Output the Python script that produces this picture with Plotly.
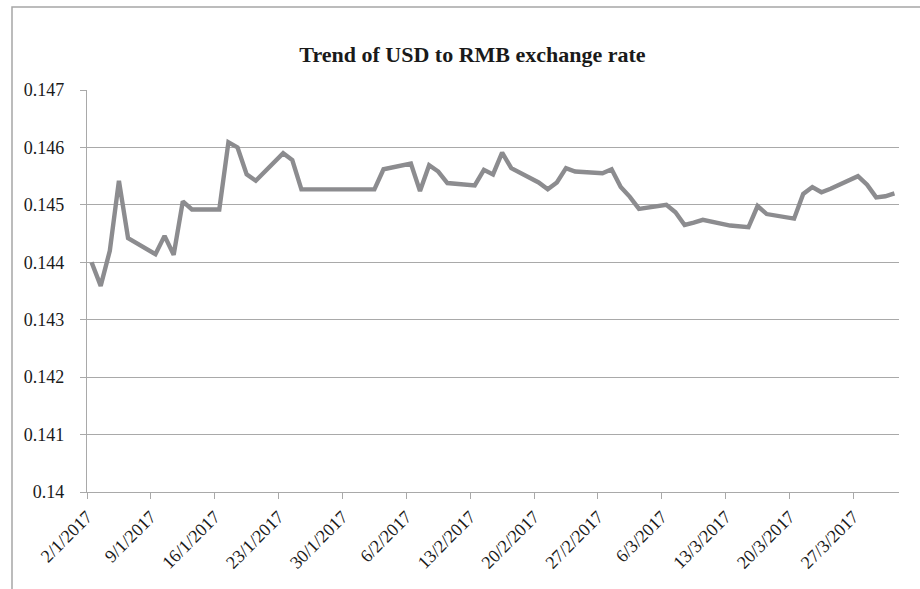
import pandas as pd
import plotly.graph_objects as go

dates = [
    "2017-01-02", "2017-01-03", "2017-01-04", "2017-01-05", "2017-01-06",
    "2017-01-09", "2017-01-10", "2017-01-11", "2017-01-12", "2017-01-13",
    "2017-01-16", "2017-01-17", "2017-01-18", "2017-01-19", "2017-01-20",
    "2017-01-23", "2017-01-24", "2017-01-25", "2017-01-26", "2017-02-02",
    "2017-02-03", "2017-02-06", "2017-02-07", "2017-02-08", "2017-02-09",
    "2017-02-10", "2017-02-13", "2017-02-14", "2017-02-15", "2017-02-16",
    "2017-02-17", "2017-02-20", "2017-02-21", "2017-02-22", "2017-02-23",
    "2017-02-24", "2017-02-27", "2017-02-28", "2017-03-01", "2017-03-02",
    "2017-03-03", "2017-03-06", "2017-03-07", "2017-03-08", "2017-03-09",
    "2017-03-10", "2017-03-13", "2017-03-14", "2017-03-15", "2017-03-16",
    "2017-03-17", "2017-03-20", "2017-03-21", "2017-03-22", "2017-03-23",
    "2017-03-24", "2017-03-27", "2017-03-28", "2017-03-29", "2017-03-30",
    "2017-03-31",
]
rates = [
    0.14400, 0.14359, 0.14420, 0.14542, 0.14442,
    0.14414, 0.14446, 0.14413, 0.14506, 0.14492,
    0.14492, 0.14609, 0.14600, 0.14553, 0.14542,
    0.14590, 0.14578, 0.14527, 0.14527, 0.14527,
    0.14562, 0.14572, 0.14524, 0.14569, 0.14558,
    0.14538, 0.14534, 0.14561, 0.14553, 0.14591,
    0.14564, 0.14539, 0.14527, 0.14539, 0.14564,
    0.14558, 0.14555, 0.14562, 0.14531, 0.14514,
    0.14493, 0.14500, 0.14487, 0.14465, 0.14469,
    0.14474, 0.14464, 0.14462, 0.14461, 0.14498,
    0.14484, 0.14476, 0.14519, 0.14531, 0.14522,
    0.14528, 0.14550, 0.14535, 0.14513, 0.14515,
    0.14520,
]
tick_dates = ["2017-01-02", "2017-01-09", "2017-01-16", "2017-01-23", "2017-01-30",
              "2017-02-06", "2017-02-13", "2017-02-20", "2017-02-27", "2017-03-06",
              "2017-03-13", "2017-03-20", "2017-03-27"]
tick_labels = ["2/1/2017", "9/1/2017", "16/1/2017", "23/1/2017", "30/1/2017",
               "6/2/2017", "13/2/2017", "20/2/2017", "27/2/2017", "6/3/2017",
               "13/3/2017", "20/3/2017", "27/3/2017"]
y_ticks = [0.14, 0.141, 0.142, 0.143, 0.144, 0.145, 0.146, 0.147]
y_labels = ["0.14", "0.141", "0.142", "0.143", "0.144", "0.145", "0.146", "0.147"]

# Excel date axis places points in the middle of each day's slot
x_pos = pd.to_datetime(dates) + pd.Timedelta(hours=12)

FONT = "Liberation Serif, Times New Roman, serif"
GRID = "#a9a9a9"

fig = go.Figure()
fig.add_trace(go.Scatter(
    x=x_pos, y=rates, mode="lines",
    line=dict(color="#8c8c8f", width=4.4),
    hoverinfo="skip",
))

fig.update_layout(
    width=920, height=589,
    margin=dict(l=87, r=21, t=90, b=97),
    paper_bgcolor="white", plot_bgcolor="white",
    showlegend=False,
    font=dict(family=FONT, size=18, color="#1a1a1a"),
    title=dict(
        text="<b>Trend of USD to RMB exchange rate</b>",
        font=dict(family=FONT, size=22, color="#1a1a1a"),
        x=472.5 / 920, xref="container", xanchor="center",
        y=1 - 54 / 589, yref="container", yanchor="middle",
    ),
    xaxis=dict(
        type="date",
        range=["2017-01-02", "2017-04-01"],
        tickvals=tick_dates, ticktext=tick_labels,
        tickangle=-45,
        showgrid=False,
        showline=True, linecolor=GRID, linewidth=1.3,
        ticks="outside", ticklen=6, tickcolor=GRID, tickwidth=1.3,
        tickfont=dict(family=FONT, size=18, color="#1a1a1a"),
        zeroline=False,
    ),
    yaxis=dict(
        range=[0.14, 0.147],
        tickvals=y_ticks, ticktext=y_labels,
        showgrid=True, gridcolor=GRID, gridwidth=1,
        showline=True, linecolor=GRID, linewidth=1.3,
        ticks="outside", ticklen=6, tickcolor=GRID, tickwidth=1.3,
        ticklabelstandoff=12,
        tickfont=dict(family=FONT, size=18, color="#1a1a1a"),
        zeroline=False,
    ),
    shapes=[dict(
        type="rect", xref="paper", yref="paper",
        x0=(12 - 87) / 812, x1=(930 - 87) / 812,
        y0=(402 - (600 - 90)) / 402, y1=(402 - (7 - 90)) / 402,
        line=dict(color="#a6a6a6", width=1.5), fillcolor="rgba(0,0,0,0)",
        layer="below",
    )],
)

fig.write_html("out.html")
